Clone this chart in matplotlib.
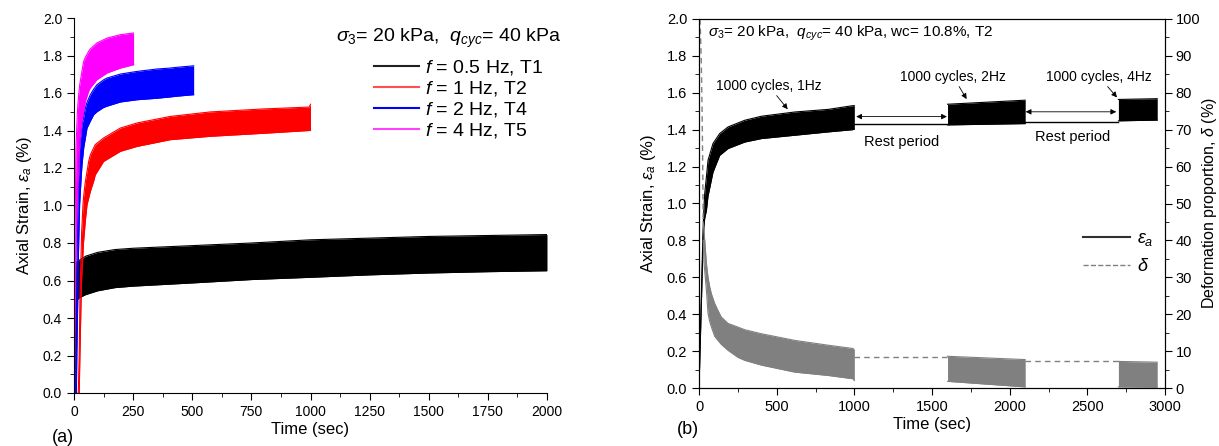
import numpy as np
import matplotlib
matplotlib.use("Agg")
import matplotlib.pyplot as plt
from matplotlib.lines import Line2D
from matplotlib.ticker import MultipleLocator

plt.rcParams['font.family'] = ['Liberation Sans', 'DejaVu Sans']
plt.rcParams['mathtext.fontset'] = 'custom'
plt.rcParams['mathtext.rm'] = 'Liberation Sans'
plt.rcParams['mathtext.it'] = 'Liberation Sans:italic'

# ---- panel (a): envelopes of the cyclic strain bands (time in s, strain in %)
t_T1 = [3, 7, 10, 12, 15, 25, 50, 100, 173, 250, 500, 750, 1000, 1250, 1500, 1750, 2000]
up_T1 = [0, 0.4, 0.65, 0.70, 0.70, 0.71, 0.73, 0.75, 0.765, 0.772, 0.786, 0.80, 0.817, 0.826, 0.835, 0.84, 0.845]
lo_T1 = [0, 0.12, 0.35, 0.48, 0.50, 0.51, 0.525, 0.545, 0.562, 0.57, 0.587, 0.605, 0.617, 0.63, 0.64, 0.647, 0.652]

t_T2 = [18, 22, 25, 30, 32, 38, 40, 48, 55, 62, 69, 83, 90, 125, 196, 266, 407, 576, 800, 995, 1000]
up_T2 = [0, 0.2, 0.5, 0.75, 0.85, 1.004, 1.04, 1.128, 1.18, 1.235, 1.27, 1.307, 1.325, 1.36, 1.413, 1.44, 1.475, 1.499, 1.515, 1.525, 1.54]
lo_T2 = [0, 0, 0.2, 0.5, 0.6, 0.75, 0.8, 0.92, 1.004, 1.04, 1.075, 1.13, 1.164, 1.235, 1.289, 1.315, 1.351, 1.369, 1.385, 1.40, 1.40]

t_T4 = [6, 10, 12, 16, 19, 23.7, 31, 34, 41, 48, 55, 69, 83, 97, 125, 140, 196, 266, 351, 407, 435, 506]
up_T4 = [0, 0.4, 0.6, 0.95, 1.13, 1.307, 1.40, 1.431, 1.47, 1.52, 1.55, 1.591, 1.62, 1.644, 1.67, 1.68, 1.701, 1.715, 1.728, 1.733, 1.737, 1.745]
lo_T4 = [0, 0, 0.2, 0.5, 0.75, 1.004, 1.164, 1.22, 1.307, 1.36, 1.413, 1.45, 1.484, 1.50, 1.523, 1.53, 1.552, 1.564, 1.572, 1.579, 1.583, 1.591]

t_T5 = [0, 2, 4, 8, 13, 15.4, 18.2, 23.7, 26.6, 34, 41, 48, 62, 69, 97, 140, 196, 252]
up_T5 = [0, 0.3, 0.8, 1.3, 1.46, 1.52, 1.57, 1.64, 1.662, 1.72, 1.769, 1.79, 1.822, 1.835, 1.867, 1.893, 1.911, 1.92]
lo_T5 = [0, 0, 0.3, 0.7, 1.0, 1.06, 1.128, 1.307, 1.36, 1.449, 1.50, 1.555, 1.61, 1.627, 1.671, 1.707, 1.733, 1.751]

labels_a = ['$f$ = 0.5 Hz, T1', '$f$ = 1 Hz, T2', '$f$ = 2 Hz, T4', '$f$ = 4 Hz, T5']
colors_a = ['black', 'red', 'blue', 'magenta']
legend_colors_a = ['#202020', '#ff5050', '#0000ff', '#ff40ff']

# ---- panel (b): multi-stage test T2
tb1 = [0, 10, 20, 26, 32, 36.7, 47.7, 58, 90, 133, 187, 294, 402, 617, 831, 988, 1000]
ea_up1 = [0, 0.33, 0.66, 0.855, 0.98, 1.054, 1.144, 1.234, 1.325, 1.379, 1.415, 1.451, 1.473, 1.496, 1.51, 1.53, 1.53]
ea_lo1 = [0, 0.3, 0.6, 0.80, 0.88, 0.92, 0.963, 1.04, 1.17, 1.261, 1.298, 1.333, 1.352, 1.37, 1.388, 1.40, 1.403]
tb2 = [1600, 2100]
ea_up2 = [1.538, 1.56]
ea_lo2 = [1.426, 1.433]
tb3 = [2700, 2950]
ea_up3 = [1.564, 1.568]
ea_lo3 = [1.448, 1.452]
rest1 = [1000, 1600]
rest2 = [2100, 2700]
ea_rest = [1.43, 1.444]

td0 = [7, 15, 20, 24, 27]
d0 = [100, 88, 75, 60, 45]
td1 = [27, 32, 47.7, 58, 69, 80, 101, 122, 144, 187, 251, 294, 402, 617, 831, 992, 1000]
d_up1 = [45, 42.7, 33.7, 30, 27.4, 25.5, 22.9, 21, 19.2, 17.5, 16.5, 15.8, 14.7, 12.9, 11.6, 10.7, 10.2]
d_lo1 = [40, 34, 26.5, 20.2, 18, 16.5, 14, 12.9, 11.8, 10.2, 8.3, 7.5, 6.2, 4.3, 3.4, 2.5, 2.0]
d_up2 = [8.6, 7.7]
d_lo2 = [1.8, 0.3]
d_up3 = [7.2, 7.0]
d_lo3 = [0.3, 0.2]
d_rest = [8.3, 7.2]

fig = plt.figure(figsize=(12.19, 4.46), dpi=100)

# ================= (a)
ax = fig.add_axes([74 / 1219, 1 - 393 / 446, 473 / 1219, 375 / 446])
series = [(t_T1, up_T1, lo_T1), (t_T2, up_T2, lo_T2), (t_T4, up_T4, lo_T4), (t_T5, up_T5, lo_T5)]
for (t, up, lo), c in zip(series, colors_a):
    ax.fill_between(t, lo, up, color=c, lw=0)
    ax.plot(t, up, color=c, lw=0.8)
    ax.plot(t, lo, color=c, lw=0.8)
ax.set_xlim(0, 2000)
ax.set_ylim(0, 2.0)
ax.xaxis.set_major_locator(MultipleLocator(250))
ax.xaxis.set_minor_locator(MultipleLocator(125))
ax.yaxis.set_major_locator(MultipleLocator(0.2))
ax.yaxis.set_minor_locator(MultipleLocator(0.1))
ax.yaxis.set_major_formatter(plt.FormatStrFormatter('%.1f'))
ax.spines['top'].set_visible(False)
ax.spines['right'].set_visible(False)
ax.tick_params(which='major', direction='out', length=5, labelsize=10)
ax.tick_params(which='minor', direction='out', length=3)
ax.set_xlabel('Time (sec)', fontsize=12, labelpad=2)
ax.set_ylabel('Axial Strain, $\\varepsilon_a$ (%)', fontsize=12, labelpad=6)

handles = [Line2D([], [], color=c, lw=1.5) for c in legend_colors_a]
ax.legend(handles, labels_a, loc='upper left', bbox_to_anchor=(374 / 1219, 1 - 58 / 446),
          bbox_transform=fig.transFigure, frameon=False, fontsize=14, handlelength=2.3,
          handletextpad=0.3, labelspacing=0.1, borderpad=0, borderaxespad=0)
fig.text(336 / 1219, 1 - 38 / 446, '$\\sigma_3$= 20 kPa,  $q_{cyc}$= 40 kPa', fontsize=14,
         ha='left', va='center')
fig.text(52 / 1219, 1 - 437 / 446, '(a)', fontsize=13, ha='left', va='center')

# ================= (b)
bx = fig.add_axes([699 / 1219, 1 - 388 / 446, 466 / 1219, 369 / 446])
bx2 = bx.twinx()

for t, up, lo in [(tb1, ea_up1, ea_lo1), (tb2, ea_up2, ea_lo2), (tb3, ea_up3, ea_lo3)]:
    bx.fill_between(t, lo, up, color='black', lw=0)
    bx.plot(t, up, color='black', lw=0.8)
    bx.plot(t, lo, color='black', lw=0.8)
for r, e in zip([rest1, rest2], ea_rest):
    bx.plot(r, [e, e], color='black', lw=1)

bx2.plot(td0, d0, color='#808080', lw=1, ls=(0, (4, 3)))
for t, up, lo in [(td1, d_up1, d_lo1), (tb2, d_up2, d_lo2), (tb3, d_up3, d_lo3)]:
    bx2.fill_between(t, lo, up, color='#808080', lw=0)
    bx2.plot(t, up, color='#808080', lw=0.8)
    bx2.plot(t, lo, color='#808080', lw=0.8)
for r, d in zip([rest1, rest2], d_rest):
    bx2.plot(r, [d, d], color='#808080', lw=1, ls=(0, (4, 3)))

bx.set_xlim(0, 3000)
bx.set_ylim(0, 2.0)
bx2.set_ylim(0, 100)
bx.xaxis.set_major_locator(MultipleLocator(500))
bx.xaxis.set_minor_locator(MultipleLocator(250))
bx.yaxis.set_major_locator(MultipleLocator(0.2))
bx.yaxis.set_minor_locator(MultipleLocator(0.1))
bx.yaxis.set_major_formatter(plt.FormatStrFormatter('%.1f'))
bx2.yaxis.set_major_locator(MultipleLocator(10))
bx2.yaxis.set_minor_locator(MultipleLocator(5))
for a in (bx, bx2):
    a.tick_params(which='major', direction='out', length=5, labelsize=10.5)
    a.tick_params(which='minor', direction='out', length=3)
bx2.tick_params(which='major', pad=2.5)
bx.set_xlabel('Time (sec)', fontsize=12, labelpad=2)
bx.set_ylabel('Axial Strain, $\\varepsilon_a$ (%)', fontsize=12, labelpad=6)
bx2.set_ylabel('Deformation proportion, $\\delta$ (%)', fontsize=11.5, labelpad=0)

bx.text(56, 1.92, '$\\sigma_3$= 20 kPa,  $q_{cyc}$= 40 kPa, wc= 10.8%, T2', fontsize=11,
        ha='left', va='center')
arrow = dict(arrowstyle='-|>', color='black', lw=0.6, mutation_scale=8, shrinkA=0, shrinkB=0)
bx.annotate('1000 cycles, 1Hz', xy=(571, 1.511), xytext=(449, 1.638), fontsize=10,
            ha='center', va='center', arrowprops=arrow)
bx.annotate('1000 cycles, 2Hz', xy=(1723, 1.566), xytext=(1637, 1.687), fontsize=10,
            ha='center', va='center', arrowprops=arrow)
bx.annotate('1000 cycles, 4Hz', xy=(2691, 1.575), xytext=(2576, 1.687), fontsize=10,
            ha='center', va='center', arrowprops=arrow)
darrow = dict(arrowstyle='<|-|>', color='black', lw=0.6, mutation_scale=8, shrinkA=0, shrinkB=0)
bx.annotate('', xy=(1012, 1.471), xytext=(1596, 1.471), arrowprops=darrow)
bx.annotate('', xy=(2103, 1.497), xytext=(2686, 1.497), arrowprops=darrow)
bx.text(1306, 1.336, 'Rest period', fontsize=10.5, ha='center', va='center')
bx.text(2404, 1.363, 'Rest period', fontsize=10.5, ha='center', va='center')

hb = [Line2D([], [], color='#303030', lw=1.5), Line2D([], [], color='#808080', lw=1, ls='--')]
bx.legend(hb, ['$\\varepsilon_a$', '$\\delta$'], loc='upper left',
          bbox_to_anchor=(1083 / 1219, 1 - 230 / 446), bbox_transform=fig.transFigure,
          frameon=False, fontsize=13, handlelength=2.6, handletextpad=0.4,
          labelspacing=0.55, borderpad=0, borderaxespad=0)
fig.text(677 / 1219, 1 - 430 / 446, '(b)', fontsize=13, ha='left', va='center')

fig.savefig('out.png', dpi=100)
